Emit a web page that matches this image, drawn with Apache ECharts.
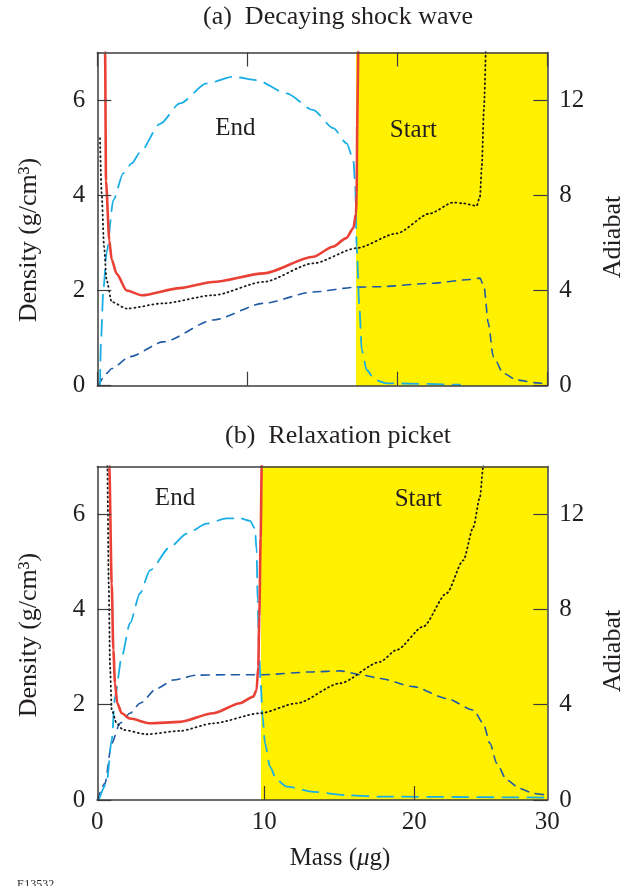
<!DOCTYPE html>
<html>
<head>
<meta charset="utf-8">
<script src="https://cdn.jsdelivr.net/npm/echarts@6/dist/echarts.min.js"></script>
<style>
html, body { margin: 0; padding: 0; background: #fff; }
#chart { width: 634px; height: 886px; }
</style>
</head>
<body>
<div id="chart"></div>
<script>
// panel (a) decaying shock wave: [mass, value]
var redA = [[0.5,16],[0.52,14],[0.58,8.6],[0.8,6.1],[0.96,5.3],[1.29,4.7],[1.96,4.0],[2.96,3.8],[5.5,4.1],[7.7,4.36],[11.1,4.72],[14.4,5.42],[15.7,5.84],[16.6,6.2],[17.07,6.62],[17.25,7.24],[17.29,8.1],[17.33,11],[17.42,16]];
var dottedA = [[0.18,10.4],[0.29,8.1],[0.45,5.84],[0.62,4.44],[0.96,3.52],[1.96,3.24],[4.4,3.46],[7.73,3.8],[11.07,4.36],[14.4,5.14],[17.29,5.78],[19.96,6.4],[22.18,7.24],[23.73,7.7],[24.4,7.66],[25.29,7.56],[25.51,7.94],[25.63,9.2],[25.78,11.7],[25.91,14.5]];
var cyanA = [[0.18,0],[0.24,0.9],[0.4,2.0],[0.62,2.8],[1.07,3.9],[1.73,4.46],[2.29,4.67],[2.85,4.9],[4.18,5.5],[5.51,5.93],[7.29,6.35],[9.07,6.49],[10.62,6.42],[12.62,6.14],[14.4,5.79],[15.73,5.41],[16.63,5.09],[17.07,4.74],[17.2,4.18],[17.29,2.92],[17.47,1.66],[17.63,0.75],[17.96,0.33],[18.51,0.12],[19.29,0.05],[24.18,0.02]];
var navyA = [[0.07,0],[0.62,0.26],[0.96,0.36],[2.18,0.61],[4.4,0.92],[7.73,1.38],[11.07,1.73],[14.4,1.97],[17.29,2.07],[18.85,2.08],[22.18,2.15],[24.85,2.23],[25.51,2.26],[25.78,2.08],[26.07,1.31],[26.4,0.61],[27.07,0.26],[27.96,0.12],[29.29,0.06],[29.96,0.04]];

// panel (b) relaxation picket
var redB = [[0.78,16],[0.8,14],[0.96,9.1],[1.07,6.3],[1.18,4.9],[1.33,4.06],[1.63,3.64],[2.18,3.42],[3.51,3.22],[5.51,3.28],[7.73,3.64],[9.51,4.06],[10.4,4.34],[10.62,4.62],[10.73,5.6],[10.8,7.7],[10.89,11],[10.96,14],[10.98,16]];
var dottedB = [[0.66,15],[0.67,14],[0.76,9.1],[0.85,5.6],[0.96,3.78],[1.29,3.22],[1.73,2.94],[3.29,2.76],[5.51,2.9],[7.73,3.22],[10.85,3.64],[13.29,4.06],[16.18,4.9],[18.85,5.8],[19.96,6.3],[21.73,7.28],[23.29,8.68],[24.4,10.06],[25.07,11.46],[25.51,12.72],[25.73,14],[25.8,15]];
var cyanB = [[0.1,0],[0.62,0.35],[0.96,1.26],[1.18,2.17],[1.63,3.01],[2.18,3.71],[2.85,4.34],[3.51,4.82],[4.85,5.31],[5.96,5.59],[7.29,5.8],[8.63,5.91],[9.51,5.91],[10.18,5.86],[10.51,5.7],[10.62,5.24],[10.69,4.2],[10.78,3.15],[10.89,2.45],[11.02,1.75],[11.18,1.19],[11.51,0.7],[11.96,0.42],[12.63,0.28],[14.4,0.17],[16.63,0.1],[18.85,0.07],[29.96,0.05]];
var navyB = [[0.0,0],[0.51,0.35],[0.96,1.19],[1.51,1.61],[2.18,1.82],[2.85,2.03],[3.96,2.34],[5.07,2.52],[6.63,2.62],[8.85,2.63],[11.07,2.63],[14.4,2.69],[16.18,2.71],[17.73,2.62],[18.85,2.55],[21.07,2.38],[23.29,2.13],[25.07,1.89],[25.73,1.61],[26.18,1.19],[26.63,0.77],[27.29,0.42],[28.18,0.24],[29.07,0.14],[29.96,0.1]];

var startA = 17.25;
var startB = 10.91;

// panel (b) mass ticks sit at uneven places in the original
var massTicksB = [11.13, 21.13];
var massLabelPosB = [0, 11.13, 21.13, 30];
var massLabelTextB = ['0', '10', '20', '30'];

var notesA = [{ text: 'End', at: [9.2, 5.4] }, { text: 'Start', at: [21.07, 5.37] }];
var notesB = [{ text: 'End', at: [5.18, 6.33] }, { text: 'Start', at: [21.4, 6.31] }];

var FONT = "'Liberation Serif', 'DejaVu Serif', serif";
var INK = '#231f20';
var AXIS = '#3c3c3c';
var YELLOW = '#fff100';

var chart = echarts.init(document.getElementById('chart'));

var lineSt = { color: AXIS, width: 1.5 };
var tickSt = { color: AXIS, width: 1.2 };

function xAxis(g, pos, ticks) {
  return {
    type: 'value', gridIndex: g, min: 0, max: 30, interval: 10, position: pos, z: 10,
    axisLine: { show: true, onZero: false, lineStyle: lineSt },
    axisTick: { show: ticks, inside: true, length: 14, lineStyle: tickSt },
    axisLabel: { show: false },
    splitLine: { show: false }
  };
}

function xAxisB() {
  return {
    type: 'value', gridIndex: 1, min: 0, max: 30, position: 'bottom', z: 10,
    axisLine: { show: true, onZero: false, lineStyle: lineSt },
    axisTick: { show: true, inside: true, length: 14, customValues: massTicksB, lineStyle: tickSt },
    axisLabel: {
      show: true, customValues: massLabelPosB, margin: 10,
      fontFamily: FONT, fontSize: 25, color: INK,
      formatter: function (v) {
        var best = 0;
        for (var i = 1; i < massLabelPosB.length; i++) {
          if (Math.abs(massLabelPosB[i] - v) < Math.abs(massLabelPosB[best] - v)) best = i;
        }
        return massLabelTextB[best];
      }
    },
    splitLine: { show: false }
  };
}

function yAxis(g, pos, max, step) {
  return {
    type: 'value', gridIndex: g, min: 0, max: max, interval: step, position: pos, z: 10,
    axisLine: { show: true, onZero: false, lineStyle: lineSt },
    axisTick: { show: true, inside: true, length: 14, lineStyle: tickSt },
    axisLabel: { showMaxLabel: false, margin: 12, fontFamily: FONT, fontSize: 25, color: INK },
    splitLine: { show: false }
  };
}

function line(data, g, right, color, width, dash) {
  return {
    type: 'line', data: data, xAxisIndex: g * 2, yAxisIndex: g * 2 + (right ? 1 : 0),
    symbol: 'none', smooth: 0.25, smoothMonotone: 'x', clip: true, z: 3,
    lineStyle: { color: color, width: width, type: dash, cap: 'round' }
  };
}

function shade(g, from) {
  return {
    type: 'line', data: [[from, 0]], xAxisIndex: g * 2, yAxisIndex: g * 2,
    symbol: 'none', lineStyle: { width: 0 }, z: 1, silent: true,
    markArea: { silent: true, itemStyle: { color: YELLOW, opacity: 1 }, data: [[{ xAxis: from }, { xAxis: 30 }]] }
  };
}

function notes(g, list) {
  return {
    type: 'scatter', xAxisIndex: g * 2, yAxisIndex: g * 2, symbolSize: 0, z: 4, silent: true,
    itemStyle: { color: INK, opacity: 1 },
    data: list.map(function (n) { return { value: n.at, name: n.text }; }),
    label: { show: true, position: 'inside', formatter: '{b}', fontFamily: FONT, fontSize: 25, color: INK, opacity: 1 }
  };
}

function txt(x, y, text, rot, extra) {
  var style = { text: text, x: 0, y: 0, align: 'center', verticalAlign: 'middle', font: '25px ' + FONT, fill: INK };
  if (extra) for (var k in extra) style[k] = extra[k];
  return { type: 'text', x: x, y: y, rotation: rot || 0, style: style, z: 20 };
}

chart.setOption({
  animation: false,
  backgroundColor: '#fff',
  grid: [
    { left: 97.3, top: 52.5, width: 450, height: 333.2 },
    { left: 97.3, top: 466.5, width: 450, height: 333.5 }
  ],
  xAxis: [
    xAxis(0, 'bottom', true),
    xAxis(0, 'top', true),
    xAxisB(),
    xAxis(1, 'top', false)
  ],
  yAxis: [
    yAxis(0, 'left', 7, 2),
    yAxis(0, 'right', 14, 4),
    yAxis(1, 'left', 7, 2),
    yAxis(1, 'right', 14, 4)
  ],
  series: [
    shade(0, startA),
    shade(1, startB),
    line(navyA, 0, false, '#1f5aa6', 1.6, [8, 7]),
    line(cyanA, 0, false, '#1aaee6', 1.8, [16, 9]),
    line(dottedA, 0, true, '#1a1a1a', 1.8, [1, 3.5]),
    line(redA, 0, true, '#ea4137', 2.6, 'solid'),
    line(navyB, 1, false, '#1f5aa6', 1.6, [8, 7]),
    line(cyanB, 1, false, '#1aaee6', 1.8, [16, 9]),
    line(dottedB, 1, true, '#1a1a1a', 1.8, [1, 3.5]),
    line(redB, 1, true, '#ea4137', 2.6, 'solid'),
    notes(0, notesA),
    notes(1, notesB)
  ],
  graphic: [
    txt(338, 17, '(a)  Decaying shock wave', 0, { font: '26px ' + FONT }),
    txt(338, 436, '(b)  Relaxation picket', 0, { font: '26px ' + FONT }),
    txt(29, 240, 'Density (g/cm³)', Math.PI / 2, { font: '26px ' + FONT }),
    txt(29, 635, 'Density (g/cm³)', Math.PI / 2, { font: '26px ' + FONT }),
    txt(613, 237, 'Adiabat', Math.PI / 2, { font: '26px ' + FONT }),
    txt(613, 651, 'Adiabat', Math.PI / 2, { font: '26px ' + FONT }),
    txt(340, 858, '{n|Mass (}{i|μ}{n|g)}', 0, {
      rich: {
        n: { fontFamily: FONT, fontSize: 25, color: INK },
        i: { fontFamily: FONT, fontSize: 25, fontStyle: 'italic', color: INK }
      }
    }),
    txt(17, 879, 'E13532', 0, { align: 'left', verticalAlign: 'top', font: '12px ' + FONT })
  ]
});
</script>
</body>
</html>
